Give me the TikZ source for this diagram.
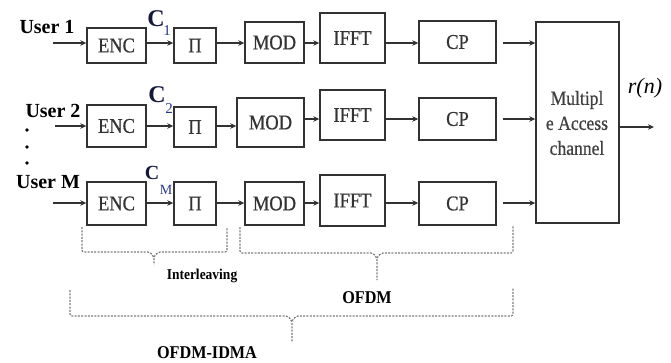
\documentclass[tikz,border=0pt]{standalone}
\usepackage{fontspec}
\setmainfont{Liberation Serif}
\newfontfamily\boxfont[FakeStretch=0.88,FakeBold=0.6]{Liberation Serif}
\newfontfamily\labfont[FakeStretch=0.9]{Liberation Serif}
\usetikzlibrary{arrows.meta}
\definecolor{cblue}{RGB}{40,55,140}
\definecolor{cdark}{RGB}{20,25,60}
\definecolor{lineg}{RGB}{50,50,50}
\definecolor{braceg}{RGB}{125,125,125}
\begin{document}
\begin{tikzpicture}[x=1pt,y=-1pt,
  blk/.style={draw=lineg,line width=1.4pt,inner sep=0pt,font=\boxfont\fontsize{21}{21}\selectfont,text=black!80},
  arr/.style={draw=lineg,line width=1.4pt,-{Stealth[length=6pt,width=5.5pt]}},
  usr/.style={font=\fontsize{20}{20}\selectfont\bfseries,inner sep=0pt},
  brace/.style={draw=braceg,line width=1.2pt,dash pattern=on 2pt off 1.3pt,rounded corners=2pt},
  blab/.style={font=\labfont\fontsize{18}{18}\selectfont\bfseries,inner sep=0pt},
  cbig/.style={inner sep=0pt,text=cdark,font=\fontsize{24}{24}\selectfont\bfseries},
  csub/.style={inner sep=0pt,text=cblue}]
\useasboundingbox (0,0) rectangle (671,362);
% row 1
\node[blk,minimum width=59pt,minimum height=35pt] (ENC1) at (116.5,45.5) {ENC};
\node[blk,minimum width=42pt,minimum height=35pt] (PI1) at (195,45.5) {Π};
\node[blk,minimum width=59pt,minimum height=41pt] (MOD1) at (274.5,42.5) {MOD};
\node[blk,minimum width=65pt,minimum height=50pt] (IFFT1) at (352.5,38) {IFFT};
\node[blk,minimum width=77pt,minimum height=42pt] (CP1) at (457.5,42) {CP};
% row 2
\node[blk,minimum width=59pt,minimum height=42pt] (ENC2) at (116.5,126) {ENC};
\node[blk,minimum width=42pt,minimum height=40pt] (PI2) at (195,127) {Π};
\node[blk,minimum width=67pt,minimum height=49pt] (MOD2) at (270.5,122.5) {MOD};
\node[blk,minimum width=65pt,minimum height=50pt] (IFFT2) at (352.5,115) {IFFT};
\node[blk,minimum width=77pt,minimum height=42pt] (CP2) at (457.5,119) {CP};
% row 3
\node[blk,minimum width=59pt,minimum height=43pt] (ENC3) at (116.5,203.5) {ENC};
\node[blk,minimum width=42pt,minimum height=43pt] (PI3) at (195,203.5) {Π};
\node[blk,minimum width=59pt,minimum height=43pt] (MOD3) at (274.5,203.5) {MOD};
\node[blk,minimum width=65pt,minimum height=51pt] (IFFT3) at (352.5,200.5) {IFFT};
\node[blk,minimum width=77pt,minimum height=43pt] (CP3) at (457.5,203.5) {CP};
% channel
\node[blk,minimum width=83pt,minimum height=201pt] (MAC) at (577.5,122.5) {};
\node[inner sep=0pt,align=center,font=\boxfont\fontsize{20}{25}\selectfont,text=black!75] (MACt) at (577,123) {Multipl\\e Access\\channel};
% row levels
\coordinate (r1) at (0,43);
\coordinate (r2a) at (0,126);
\coordinate (r2b) at (0,119);
\coordinate (r3) at (0,203);
\coordinate (in1) at (53,43);
\coordinate (in2) at (55,126);
\coordinate (in3) at (53,203);
\coordinate (rout) at (654,127);
% user labels
\node[usr] (U1) at (47,27) {User 1};
\node[usr] (U2) at (53,111) {User 2};
\node[usr] (UM) at (48,182) {User M};
\fill[black] (27,130) circle (1.8pt) (27,147) circle (1.8pt) (27,163) circle (1.8pt);
% c labels
\node[cbig] (C1) at (156,19) {C};
\node[csub,font=\fontsize{15}{15}\selectfont] (C1s) at (167,31) {1};
\node[cbig] (C2) at (157,95) {C};
\node[csub,font=\fontsize{15}{15}\selectfont] (C2s) at (169,109) {2};
\node[cbig,font=\fontsize{20}{20}\selectfont\bfseries] (C3) at (152,173) {C};
\node[csub,font=\fontsize{14}{14}\selectfont] (C3s) at (166,190) {M};
% arrows row 1
\draw[arr] (in1) -- (ENC1.west |- r1);
\draw[arr] (ENC1.east |- r1) -- (PI1.west |- r1);
\draw[arr] (PI1.east |- r1) -- (MOD1.west |- r1);
\draw[arr] (MOD1.east |- r1) -- (IFFT1.west |- r1);
\draw[arr] (IFFT1.east |- r1) -- (CP1.west |- r1);
\draw[arr,shorten <=6pt] (CP1.east |- r1) -- (MAC.west |- r1);
% arrows row 2
\draw[arr] (in2) -- (ENC2.west |- r2a);
\draw[arr] (ENC2.east |- r2a) -- (PI2.west |- r2a);
\draw[arr] (PI2.east |- r2a) -- (MOD2.west |- r2a);
\draw[arr] (MOD2.east |- r2b) -- (IFFT2.west |- r2b);
\draw[arr] (IFFT2.east |- r2b) -- (CP2.west |- r2b);
\draw[arr,shorten <=6pt] (CP2.east |- r2b) -- (MAC.west |- r2b);
% arrows row 3
\draw[arr] (in3) -- (ENC3.west |- r3);
\draw[arr] (ENC3.east |- r3) -- (PI3.west |- r3);
\draw[arr] (PI3.east |- r3) -- (MOD3.west |- r3);
\draw[arr] (MOD3.east |- r3) -- (IFFT3.west |- r3);
\draw[arr] (IFFT3.east |- r3) -- (CP3.west |- r3);
\draw[arr,shorten <=6pt] (CP3.east |- r3) -- (MAC.west |- r3);
% output
\draw[arr] (MAC.east |- rout) -- (rout);
\node[inner sep=0pt,font=\fontsize{22}{22}\selectfont\itshape] (rn) at (645,88) {r(n)};
% braces
\draw[brace] (82,227) -- (82,252) -- (150,252) -- (154,257) -- (154,265);
\draw[brace] (154,257) -- (158,252) -- (227,252) -- (227,227);
\draw[brace] (240,227) -- (240,253) -- (373,253) -- (377,258) -- (377,280);
\draw[brace] (377,258) -- (381,253) -- (513,253) -- (513,225);
\draw[brace] (70,290) -- (70,316) -- (288,316) -- (292,321) -- (292,342);
\draw[brace] (292,321) -- (296,316) -- (513,316) -- (513,288);
\node[blab,font=\labfont\fontsize{15}{15}\selectfont\bfseries] (IL) at (202,276) {Interleaving};
\node[blab] (OF) at (367,298) {OFDM};
\node[blab] (OI) at (207,353) {OFDM-IDMA};
\end{tikzpicture}
\end{document}
